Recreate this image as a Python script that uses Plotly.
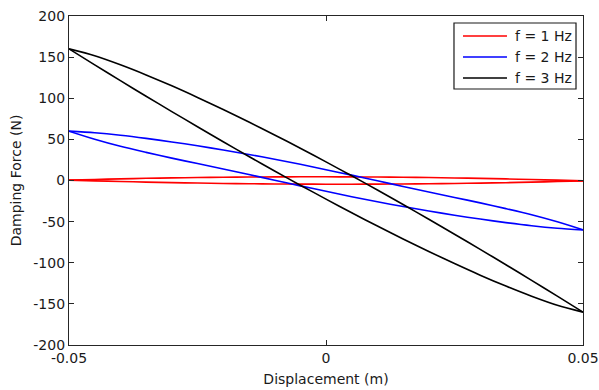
import plotly.graph_objects as go

disp = [-0.05, -0.045, -0.04, -0.035, -0.03, -0.025, -0.02, -0.015, -0.01, -0.005, 0.0,
        0.005, 0.01, 0.015, 0.02, 0.025, 0.03, 0.035, 0.04, 0.045, 0.05]

# f = 1 Hz (red) damping force, upper and lower branch (N)
f1_upper = [0.5, 1.3, 2.0, 2.65, 3.2, 3.65, 4.0, 4.25, 4.4, 4.5, 4.5,
            4.4, 4.2, 4.0, 3.6, 3.1, 2.6, 1.95, 1.2, 0.4, -0.5]
f1_lower = [0.5, -0.4, -1.2, -1.95, -2.6, -3.1, -3.6, -3.95, -4.2, -4.4, -4.5,
            -4.5, -4.4, -4.25, -4.0, -3.65, -3.2, -2.65, -2.0, -1.3, -0.5]

# f = 2 Hz (blue)
f2_upper = [60, 58, 55, 51.2, 46.9, 42.2, 37.1, 31.7, 25.9, 19.7, 13.1,
            6.5, -0.3, -7.3, -13.9, -20.6, -27.2, -34.2, -41.6, -50.2, -60]
f2_lower = [60, 50.2, 41.6, 34.2, 27.2, 20.6, 13.9, 7.3, 0.3, -6.5, -13.1,
            -19.7, -25.9, -31.7, -37.1, -42.2, -46.9, -51.2, -55, -58, -60]

# f = 3 Hz (black)
f3_upper = [160, 151.7, 140.7, 128.4, 115.1, 101, 86.3, 71.1, 55.4, 39.2, 22.6,
            5.7, -11.6, -29.2, -47.1, -65.3, -83.8, -102.4, -121.4, -140.6, -160]
f3_lower = [160, 140.6, 121.4, 102.4, 83.8, 65.3, 47.1, 29.2, 11.6, -5.7, -22.6,
            -39.2, -55.4, -71.1, -86.3, -101, -115.1, -128.4, -140.7, -151.7, -160]

legend_names = ["f = 1 Hz", "f = 2 Hz", "f = 3 Hz"]
colors = ["#ff0000", "#0000ff", "#000000"]
uppers = [f1_upper, f2_upper, f3_upper]
lowers = [f1_lower, f2_lower, f3_lower]

x_ticks = [-0.05, 0, 0.05]
x_ticktext = ["-0.05", "0", "0.05"]
y_ticks = [-200, -150, -100, -50, 0, 50, 100, 150, 200]
y_ticktext = ["-200", "-150", "-100", "-50", "0", "50", "100", "150", "200"]

FONT = "DejaVu Sans, Arial, sans-serif"
TXT = "#1a1a1a"

fig = go.Figure()
for name, color, up, lo in zip(legend_names, colors, uppers, lowers):
    for branch in (up, lo):
        fig.add_trace(go.Scatter(x=disp, y=branch, mode="lines", name=name, legendgroup=name,
                                 showlegend=False,
                                 line=dict(color=color, width=1.6, shape="spline", smoothing=0.8)))

# Boxed legend (MATLAB style: long line samples), placed in plot-area fractions
leg_x0, leg_x1, leg_y0, leg_y1 = 0.749, 0.9864, 0.7781, 0.9787
row_y = [0.9392, 0.8754, 0.8116]
fig.add_shape(type="rect", xref="paper", yref="paper", x0=leg_x0, x1=leg_x1, y0=leg_y0, y1=leg_y1,
              line=dict(color=TXT, width=1.2), fillcolor="white", layer="above")
for name, color, ry in zip(legend_names, colors, row_y):
    fig.add_shape(type="line", xref="paper", yref="paper", x0=0.7665, x1=0.8521, y0=ry, y1=ry,
                  line=dict(color=color, width=1.6), layer="above")
    fig.add_annotation(xref="paper", yref="paper", x=0.8638, y=ry, xanchor="left", yanchor="middle",
                       text=name, showarrow=False,
                       font=dict(family=FONT, size=14, color=TXT))

axis_common = dict(showline=True, linecolor="#262626", linewidth=1.3, mirror="ticks",
                   ticks="inside", ticklen=5, tickcolor="#262626", tickwidth=1,
                   showgrid=False, zeroline=False, automargin=False,
                   tickfont=dict(family=FONT, size=14, color=TXT))

fig.update_layout(
    width=599, height=390,
    margin=dict(l=69, r=16, t=16, b=45, autoexpand=False),
    paper_bgcolor="white", plot_bgcolor="white",
    font=dict(family=FONT, size=14, color=TXT),
    xaxis=dict(range=[-0.05, 0.05], tickvals=x_ticks, ticktext=x_ticktext,
               title=dict(text="Displacement (m)", standoff=9,
                          font=dict(family=FONT, size=14, color=TXT)),
               **axis_common),
    yaxis=dict(range=[-200, 200], tickvals=y_ticks, ticktext=y_ticktext,
               title=dict(text="Damping Force (N)", standoff=8,
                          font=dict(family=FONT, size=14, color=TXT)),
               **axis_common),
    showlegend=False,
)

fig.write_html("out.html")
